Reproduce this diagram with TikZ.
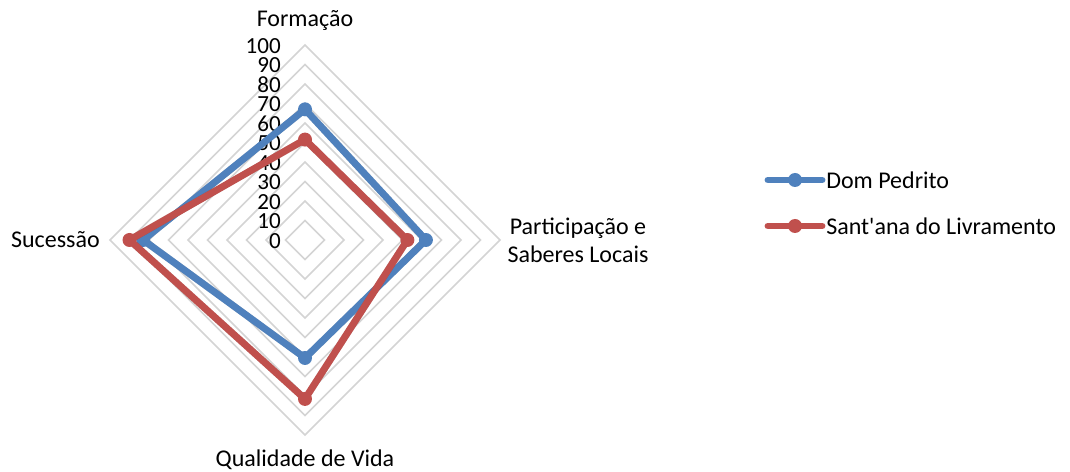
\documentclass[tikz,border=0pt]{standalone}
\usepackage{fontspec}
\setmainfont{Carlito}
\usepackage{xcolor}
\usetikzlibrary{calc,positioning}
\definecolor{dpblue}{HTML}{4F81BD}
\definecolor{slred}{HTML}{C0504D}
\tikzstyle{grid} = [draw=black!17, line width=1.1pt]
\tikzstyle{lbl} = [font=\fontsize{18}{21}\selectfont, inner sep=0pt, align=center]
\tikzstyle{tick} = [font=\fontsize{17.3}{17.3}\selectfont, inner sep=0pt, anchor=east, text height=10.9pt, text depth=0pt]
\tikzstyle{dot} = [circle, inner sep=0pt, minimum size=10.5pt]
\tikzstyle{series} = [line width=5.2pt, line join=round]
\tikzstyle{shade} = [draw=black, opacity=0.18, line width=5.2pt, line join=round, shift={(1.5,-2.5)}]

\begin{document}
\begin{tikzpicture}[x=0.75pt, y=0.75pt]
\useasboundingbox (0,0) rectangle (1070,471);
\def\r{1.95}
\coordinate (c) at (305,231);

% grid
\foreach \v in {10,20,...,100}
  \draw [grid] ($(c)+(0,\v*\r)$) -- ($(c)+(\v*\r,0)$) -- ($(c)+(0,-\v*\r)$) -- ($(c)+(-\v*\r,0)$) -- cycle;
\foreach \v in {0,10,...,100}
  \node [tick] (t\v) at ($(c)+(-24,\v*\r-1)$) {\v};

% axis labels
\node [lbl] (form) at (305,450) {Formação};
\node [lbl, anchor=east] (suc) at (100,231) {Sucessão};
\node [lbl] (part) at (578,231) {Participação e\\Saberes Locais};
\node [lbl] (qual) at (305,11) {Qualidade de Vida};

% Dom Pedrito
\coordinate (dpF) at ($(c)+(0,67*\r)$);
\coordinate (dpP) at ($(c)+(62*\r,0)$);
\coordinate (dpQ) at ($(c)+(0,-60.5*\r)$);
\coordinate (dpS) at ($(c)+(-83*\r,0)$);
% Sant'ana do Livramento
\coordinate (slF) at ($(c)+(0,51.5*\r)$);
\coordinate (slP) at ($(c)+(52.5*\r,0)$);
\coordinate (slQ) at ($(c)+(0,-81.5*\r)$);
\coordinate (slS) at ($(c)+(-90*\r,0)$);

\draw [shade] (dpF) -- (dpP) -- (dpQ) -- (dpS) -- cycle;
\draw [series, draw=dpblue] (dpF) -- (dpP) -- (dpQ) -- (dpS) -- cycle;
\foreach \p in {dpF,dpP,dpQ,dpS}
  \node [dot, fill=dpblue] at (\p) {};
\draw [shade] (slF) -- (slP) -- (slQ) -- (slS) -- cycle;
\draw [series, draw=slred] (slF) -- (slP) -- (slQ) -- (slS) -- cycle;
\foreach \p in {slF,slP,slQ,slS}
  \node [dot, fill=slred] at (\p) {};

% legend
\coordinate (dpa) at (768,291);
\coordinate (dpb) at (822,291);
\coordinate (sla) at (768,245);
\coordinate (slb) at (822,245);
\draw [series, draw=dpblue, line cap=round] (dpa) -- node [dot, fill=dpblue] (dpm) {} (dpb);
\draw [series, draw=slred, line cap=round] (sla) -- node [dot, fill=slred] (slm) {} (slb);
\node [lbl, anchor=west, right=4 of dpb] (dpt) {Dom Pedrito};
\node [lbl, anchor=west, right=4 of slb] (slt) {Sant\textquotesingle ana do Livramento};
\end{tikzpicture}
\end{document}
